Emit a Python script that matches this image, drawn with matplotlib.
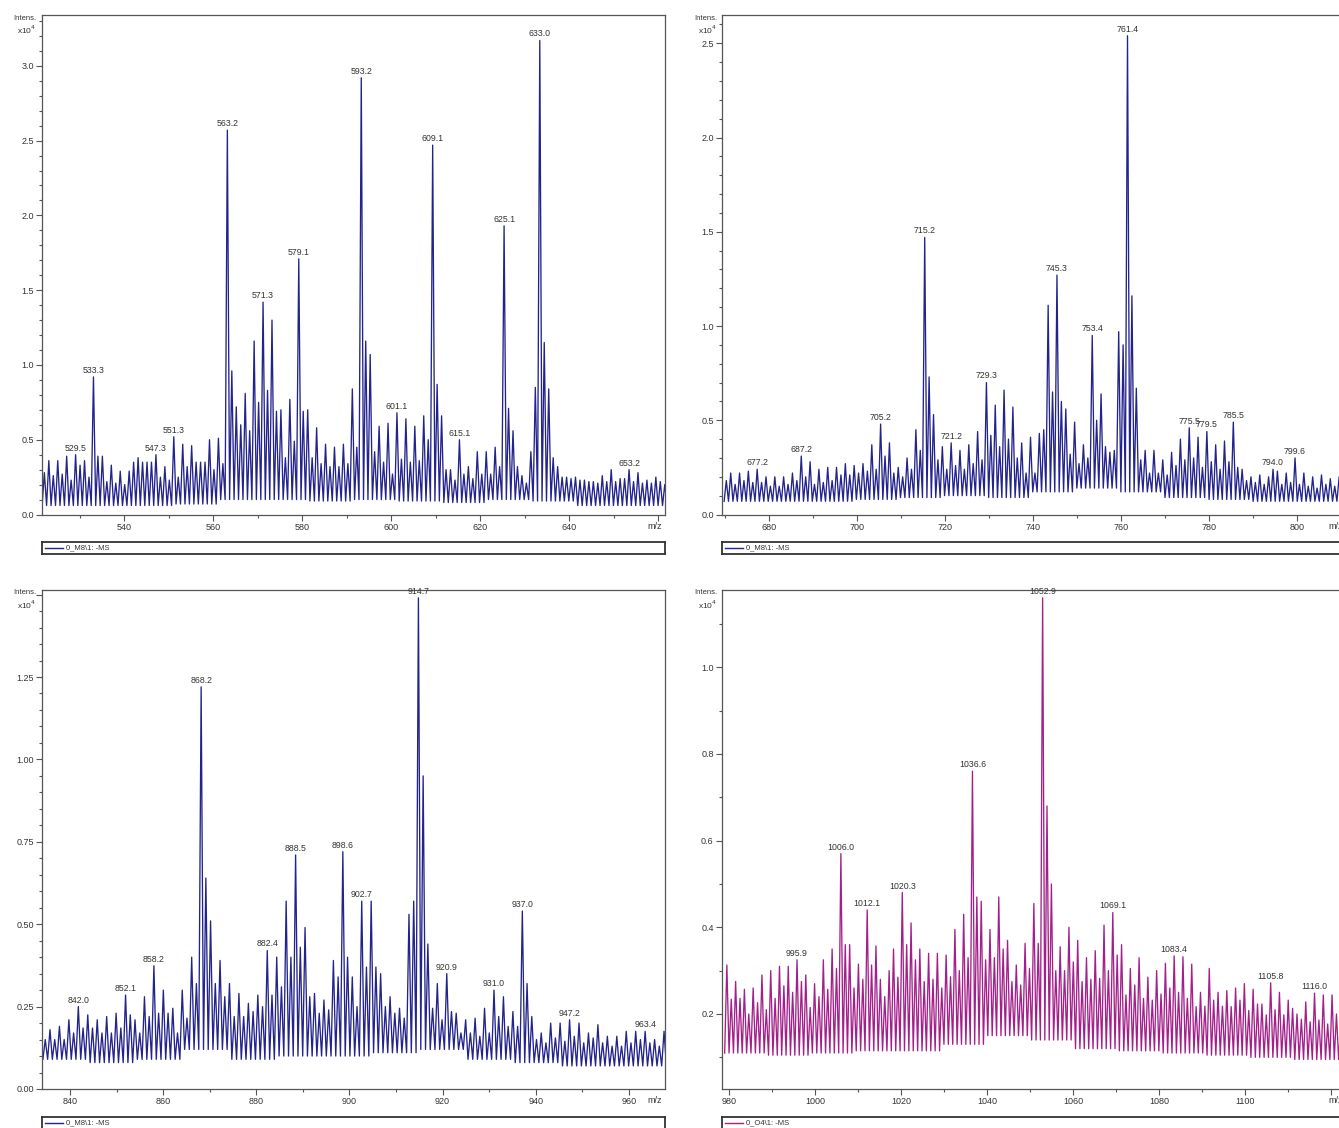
import numpy as np
import matplotlib
matplotlib.use("Agg")
import matplotlib.pyplot as plt
from matplotlib.ticker import MultipleLocator, FuncFormatter

plt.rcParams['font.family'] = ['Liberation Sans', 'DejaVu Sans']

# ---- data (intensities in x10^4, one value per ~1 m/z peak) ----
p1_start, p1_step = 522.1, 1.003
p1_int = [0.28, 0.36, 0.26, 0.36, 0.27, 0.39, 0.23, 0.40, 0.33, 0.36,
          0.25, 0.92, 0.39, 0.39, 0.22, 0.33, 0.21, 0.29, 0.20, 0.29,
          0.35, 0.38, 0.35, 0.35, 0.35, 0.40, 0.25, 0.32, 0.23, 0.52,
          0.25, 0.47, 0.32, 0.46, 0.35, 0.35, 0.35, 0.50, 0.30, 0.51,
          0.34, 2.57, 0.96, 0.72, 0.60, 0.81, 0.56, 1.16, 0.75, 1.42,
          0.83, 1.30, 0.69, 0.70, 0.38, 0.77, 0.49, 1.71, 0.69, 0.70,
          0.38, 0.58, 0.34, 0.47, 0.32, 0.45, 0.32, 0.47, 0.34, 0.84,
          0.45, 2.92, 1.16, 1.07, 0.42, 0.59, 0.35, 0.61, 0.27, 0.68,
          0.37, 0.64, 0.35, 0.59, 0.36, 0.66, 0.50, 2.47, 0.87, 0.66,
          0.30, 0.30, 0.23, 0.50, 0.27, 0.32, 0.24, 0.42, 0.27, 0.42,
          0.27, 0.45, 0.32, 1.93, 0.71, 0.56, 0.32, 0.26, 0.21, 0.42,
          0.85, 3.17, 1.15, 0.84, 0.38, 0.32, 0.25, 0.25, 0.24, 0.25,
          0.23, 0.23, 0.22, 0.22, 0.21, 0.26, 0.22, 0.30, 0.22, 0.24,
          0.24, 0.30, 0.22, 0.28, 0.21, 0.23, 0.21, 0.25, 0.22, 0.20]
p1_floor = [0.06, 0.06, 0.06, 0.07, 0.10, 0.10, 0.09, 0.10, 0.09, 0.08, 0.10, 0.09, 0.06, 0.06]
p1_labels = [529.5, 533.3, 547.3, 551.3, 563.2, 571.3, 579.1, 593.2, 601.1,
             609.1, 615.1, 625.1, 633.0, 653.2]

p2_start, p2_step = 670.3, 1.002
p2_int = [0.18, 0.22, 0.16, 0.22, 0.18, 0.23, 0.17, 0.24, 0.17, 0.20,
          0.15, 0.20, 0.15, 0.20, 0.16, 0.22, 0.18, 0.31, 0.20, 0.28,
          0.16, 0.24, 0.17, 0.25, 0.18, 0.25, 0.21, 0.27, 0.21, 0.26,
          0.22, 0.27, 0.23, 0.37, 0.24, 0.48, 0.31, 0.38, 0.22, 0.25,
          0.20, 0.30, 0.24, 0.45, 0.34, 1.47, 0.73, 0.53, 0.29, 0.36,
          0.24, 0.38, 0.26, 0.34, 0.24, 0.37, 0.27, 0.44, 0.29, 0.70,
          0.42, 0.58, 0.36, 0.66, 0.40, 0.57, 0.30, 0.38, 0.22, 0.41,
          0.22, 0.43, 0.45, 1.11, 0.65, 1.27, 0.60, 0.56, 0.32, 0.49,
          0.27, 0.37, 0.30, 0.95, 0.50, 0.64, 0.36, 0.33, 0.34, 0.97,
          0.90, 2.54, 1.16, 0.67, 0.29, 0.34, 0.22, 0.34, 0.22, 0.29,
          0.21, 0.33, 0.26, 0.40, 0.29, 0.46, 0.30, 0.41, 0.25, 0.44,
          0.28, 0.37, 0.24, 0.39, 0.28, 0.49, 0.25, 0.24, 0.18, 0.20,
          0.17, 0.21, 0.16, 0.20, 0.24, 0.23, 0.16, 0.22, 0.17, 0.30,
          0.16, 0.22, 0.15, 0.20, 0.14, 0.21, 0.16, 0.19, 0.15, 0.20, 0.16]
p2_floor = [0.07, 0.07, 0.07, 0.08, 0.09, 0.10, 0.09, 0.12, 0.14, 0.12, 0.09, 0.08, 0.07, 0.07, 0.07]
p2_labels = [677.2, 687.2, 705.2, 715.2, 721.2, 729.3, 745.3, 753.4, 761.4,
             775.5, 779.5, 785.5, 794.0, 799.6]

p3_start, p3_step = 834.7, 1.014
p3_int = [0.15, 0.18, 0.15, 0.19, 0.15, 0.21, 0.17, 0.25, 0.185, 0.225,
          0.185, 0.21, 0.17, 0.22, 0.17, 0.23, 0.185, 0.285, 0.225, 0.21,
          0.17, 0.28, 0.22, 0.374, 0.23, 0.30, 0.23, 0.245, 0.17, 0.30,
          0.215, 0.40, 0.32, 1.22, 0.64, 0.51, 0.32, 0.39, 0.28, 0.32,
          0.22, 0.29, 0.22, 0.26, 0.235, 0.285, 0.25, 0.42, 0.285, 0.40,
          0.31, 0.57, 0.40, 0.71, 0.43, 0.49, 0.28, 0.29, 0.23, 0.27,
          0.24, 0.39, 0.34, 0.72, 0.40, 0.34, 0.25, 0.57, 0.37, 0.57,
          0.37, 0.35, 0.25, 0.28, 0.23, 0.245, 0.215, 0.53, 0.57, 1.49,
          0.95, 0.44, 0.245, 0.32, 0.21, 0.35, 0.235, 0.23, 0.17, 0.21,
          0.17, 0.215, 0.16, 0.245, 0.17, 0.30, 0.22, 0.28, 0.19, 0.235,
          0.19, 0.54, 0.32, 0.22, 0.15, 0.17, 0.14, 0.20, 0.155, 0.20,
          0.145, 0.21, 0.16, 0.20, 0.14, 0.17, 0.155, 0.195, 0.14, 0.16,
          0.13, 0.16, 0.13, 0.175, 0.14, 0.175, 0.15, 0.175, 0.14, 0.15,
          0.13, 0.175]
p3_floor = [0.09, 0.08, 0.09, 0.12, 0.09, 0.10, 0.10, 0.11, 0.12, 0.09, 0.08, 0.07, 0.07, 0.07]
p3_labels = [842.0, 852.1, 858.2, 868.2, 882.4, 888.5, 898.6, 902.7, 914.7,
             920.9, 931.0, 937.0, 947.2, 963.4]

p4_start, p4_step = 979.5, 1.02
p4_int = [0.313, 0.234, 0.275, 0.236, 0.257, 0.20, 0.26, 0.226, 0.29, 0.21,
          0.30, 0.236, 0.31, 0.265, 0.31, 0.25, 0.325, 0.275, 0.29, 0.215,
          0.27, 0.24, 0.325, 0.257, 0.35, 0.305, 0.57, 0.36, 0.36, 0.26,
          0.315, 0.28, 0.44, 0.313, 0.357, 0.28, 0.24, 0.30, 0.35, 0.285,
          0.48, 0.36, 0.41, 0.325, 0.35, 0.275, 0.34, 0.28, 0.34, 0.26,
          0.336, 0.286, 0.395, 0.30, 0.43, 0.33, 0.76, 0.47, 0.46, 0.325,
          0.395, 0.33, 0.47, 0.35, 0.37, 0.275, 0.313, 0.267, 0.363, 0.305,
          0.455, 0.363, 1.16, 0.68, 0.50, 0.30, 0.355, 0.30, 0.40, 0.32,
          0.37, 0.275, 0.33, 0.28, 0.346, 0.282, 0.405, 0.30, 0.434, 0.336,
          0.36, 0.244, 0.305, 0.267, 0.33, 0.236, 0.285, 0.232, 0.30, 0.246,
          0.317, 0.26, 0.334, 0.25, 0.332, 0.236, 0.315, 0.217, 0.25, 0.218,
          0.305, 0.232, 0.25, 0.218, 0.254, 0.217, 0.26, 0.232, 0.27, 0.208,
          0.257, 0.223, 0.223, 0.198, 0.272, 0.21, 0.25, 0.198, 0.232, 0.213,
          0.20, 0.188, 0.228, 0.182, 0.248, 0.186, 0.244, 0.177, 0.244, 0.20, 0.18]
p4_floor = [0.11, 0.105, 0.11, 0.115, 0.115, 0.13, 0.15, 0.14, 0.12, 0.115, 0.11, 0.105, 0.10, 0.095, 0.095]
p4_labels = [995.9, 1006.0, 1012.1, 1020.3, 1036.6, 1052.9, 1069.1, 1083.4, 1105.8, 1116.0]

W, H = 1339, 1128
BLUE = '#23238c'
MAGENTA = '#a3208a'
GREY = '#555555'


def rect(x0, y0, x1, y1):
    # pixel box -> figure fraction
    return [x0 / W, 1 - y1 / H, (x1 - x0) / W, (y1 - y0) / H]


def trace(start, step, ints, floor):
    # zigzag: trough half a step before each peak, then the peak
    xs, ys = [], []
    for k, h in enumerate(ints):
        m = start + k * step
        xs += [m - 0.5 * step, m]
        ys += [floor[k // 10], h]
    xs.append(start + (len(ints) - 0.5) * step)
    ys.append(floor[-1])
    return xs, ys


def draw_panel(ax, start, step, ints, floor, labels, color,
               xlim, ylim, ymaj, ymin, ydec):
    xs, ys = trace(start, step, ints, floor)
    ax.plot(xs, ys, color=color, lw=0.95)
    mz = start + step * np.arange(len(ints))
    vals = np.array(ints)
    for lab in labels:
        near = np.where(np.abs(mz - lab) < 0.8)[0]
        i = near[np.argmax(vals[near])]
        ax.annotate(f'{lab:.1f}', (mz[i], vals[i]), xytext=(0, 1.5),
                    textcoords='offset points', ha='center', va='bottom',
                    fontsize=6.3, color='#333333')
    ax.set_xlim(*xlim)
    ax.set_ylim(*ylim)
    # no tick label where m/z sits or under the Intens. caption
    xcut = xlim[1] - 20 * (xlim[1] - xlim[0]) / 623
    ycut = ylim[1] - 12 * (ylim[1] - ylim[0]) / 500
    ax.xaxis.set_major_formatter(FuncFormatter(lambda v, p: '' if v > xcut else f'{v:.0f}'))
    ax.yaxis.set_major_formatter(FuncFormatter(lambda v, p: '' if v > ycut else f'{v:.{ydec}f}'))
    ax.xaxis.set_major_locator(MultipleLocator(20))
    ax.xaxis.set_minor_locator(MultipleLocator(10))
    ax.yaxis.set_major_locator(MultipleLocator(ymaj))
    ax.yaxis.set_minor_locator(MultipleLocator(ymin))
    ax.tick_params(which='both', direction='out', colors=GREY,
                   labelcolor='#333333', labelsize=6.5, width=0.8, pad=2)
    ax.tick_params(which='major', length=4)
    ax.tick_params(which='minor', length=2.5)
    for s in ax.spines.values():
        s.set_color(GREY)
        s.set_linewidth(0.9)
    ax.text(1 - 10 / 623, -12 / 500, 'm/z', transform=ax.transAxes,
            ha='center', va='center', fontsize=6.5, color='#333333')


def legend_box(box, color, name):
    lg = fig.add_axes(rect(*box))
    lg.set_xlim(0, box[2] - box[0])
    lg.set_ylim(0, 1)
    lg.set_xticks([])
    lg.set_yticks([])
    for s in lg.spines.values():
        s.set_color('#333333')
        s.set_linewidth(1.3)
    lg.plot([3, 21], [0.5, 0.5], color=color, lw=1)
    lg.text(24, 0.5, name, va='center', ha='left', fontsize=5.5, color='#333333')


def intens_label(x, y):
    fig.text(x / W, 1 - y / H, 'Intens.', ha='right', va='center', fontsize=5.5, color='#333333')
    fig.text(x / W, 1 - (y + 12) / H, r'x10$^4$', ha='right', va='center', fontsize=6, color='#333333')


fig = plt.figure(figsize=(W / 100, H / 100), dpi=100)

ax1 = fig.add_axes(rect(42, 15, 665, 514.5))
draw_panel(ax1, p1_start, p1_step, p1_int, p1_floor, p1_labels, BLUE,
           (521.57, 661.57), (0, 3.34), 0.5, 0.1, 1)
ax2 = fig.add_axes(rect(722, 15, 1346, 514.5))
draw_panel(ax2, p2_start, p2_step, p2_int, p2_floor, p2_labels, BLUE,
           (669.32, 811.14), (0, 2.65), 0.5, 0.1, 1)
ax3 = fig.add_axes(rect(42, 590, 665, 1089))
draw_panel(ax3, p3_start, p3_step, p3_int, p3_floor, p3_labels, BLUE,
           (834.0, 967.74), (0, 1.514), 0.25, 0.05, 2)
ax4 = fig.add_axes(rect(722, 590, 1346, 1089))
draw_panel(ax4, p4_start, p4_step, p4_int, p4_floor, p4_labels, MAGENTA,
           (978.37, 1123.5), (0.027, 1.178), 0.2, 0.1, 1)

legend_box((42, 542, 665, 554), BLUE, r'0_M8\1: -MS')
legend_box((722, 542, 1346, 554), BLUE, r'0_M8\1: -MS')
legend_box((42, 1117, 665, 1129), BLUE, r'0_M8\1: -MS')
legend_box((722, 1117, 1346, 1129), MAGENTA, r'0_O4\1: -MS')

intens_label(36, 18)
intens_label(717, 18)
intens_label(36, 593)
intens_label(717, 593)

fig.savefig('out.png', dpi=100)
